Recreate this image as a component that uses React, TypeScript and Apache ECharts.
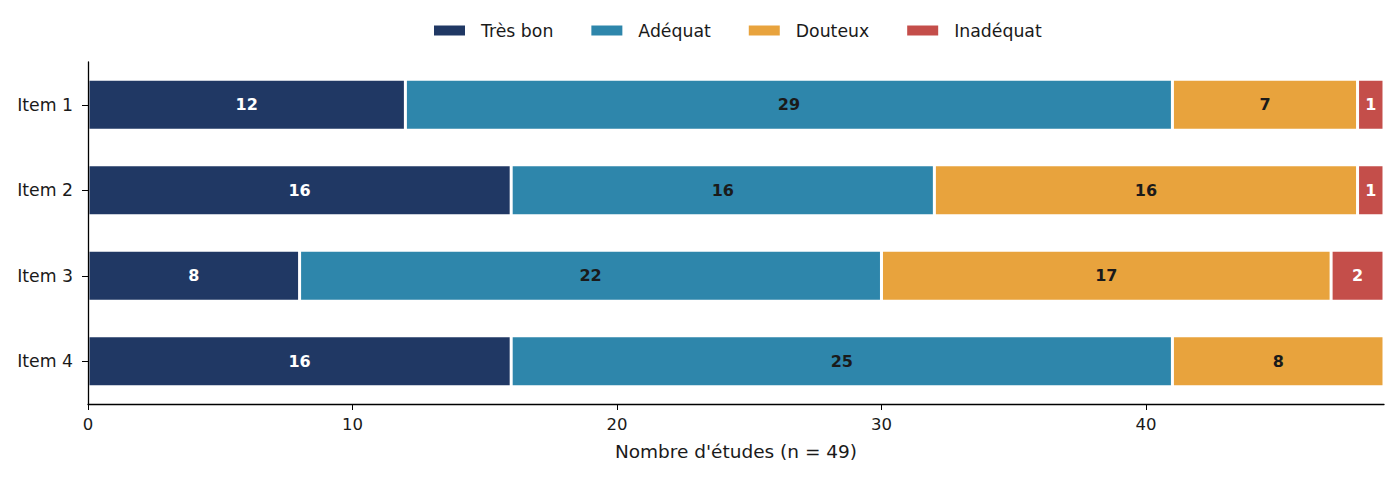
import React, { useEffect, useRef } from "react";
import * as echarts from "echarts";

const items = ["Item 1", "Item 2", "Item 3", "Item 4"];
const tresBon = [12, 16, 8, 16];
const adequat = [29, 16, 22, 25];
const douteux = [7, 16, 17, 8];
const inadequat = [1, 1, 2, 0];
const xTicks = [0, 10, 20, 30, 40];

const FONT = "DejaVu Sans";

function StackedBars() {
  const chartRef = useRef<HTMLDivElement>(null);

  useEffect(() => {
    document.body.style.margin = "0";
    const myChart = echarts.init(chartRef.current!, undefined, { renderer: "svg" });

    const makeSeries = (name: string, data: number[], color: string, labelColor: string) => ({
      name,
      type: "bar",
      stack: "total",
      barWidth: 51,
      data,
      itemStyle: { color, borderColor: "#ffffff", borderWidth: 1.5 },
      label: {
        show: true,
        position: "inside",
        color: labelColor,
        fontFamily: FONT,
        fontWeight: "bold",
        fontSize: 16,
        formatter: (p: any) => (p.value > 0 ? String(p.value) : ""),
      },
    });

    const option: echarts.EChartsOption = {
      animation: false,
      textStyle: { fontFamily: FONT },
      legend: {
        top: 22,
        left: 432,
        padding: 0,
        icon: "rect",
        itemWidth: 33,
        itemHeight: 12,
        itemGap: 36,
        textStyle: { fontFamily: FONT, fontSize: 17.3, color: "#1a1a1a", padding: [0, 0, 0, 10] },
        data: ["Très bon", "Adéquat", "Douteux", "Inadéquat"],
      },
      grid: { left: 88, right: 16, top: 62, bottom: 75, containLabel: false },
      xAxis: {
        type: "value",
        min: 0,
        max: 49,
        interval: 10,
        name: "Nombre d'études (n = 49)",
        nameLocation: "middle",
        nameGap: 38,
        nameTextStyle: { fontFamily: FONT, fontSize: 18.5, color: "#1a1a1a" },
        axisLine: { show: true, lineStyle: { color: "#000", width: 1.3 } },
        axisTick: { show: true, length: 6, lineStyle: { color: "#000" }, customValues: xTicks },
        axisLabel: { fontFamily: FONT, fontSize: 16.5, color: "#1a1a1a", margin: 12, customValues: xTicks },
        splitLine: { show: false },
      },
      yAxis: {
        type: "category",
        data: items,
        inverse: true,
        z: 5,
        axisLine: { show: true, lineStyle: { color: "#000", width: 1.3 } },
        axisTick: { show: true, alignWithLabel: true, length: 6, lineStyle: { color: "#000" } },
        axisLabel: { fontFamily: FONT, fontSize: 17.3, color: "#1a1a1a", margin: 15 },
      },
      series: [
        makeSeries("Très bon", tresBon, "#203864", "#ffffff"),
        makeSeries("Adéquat", adequat, "#2e86ab", "#1a1a1a"),
        makeSeries("Douteux", douteux, "#e8a33d", "#1a1a1a"),
        makeSeries("Inadéquat", inadequat, "#c44e4a", "#ffffff"),
      ] as any,
    };

    myChart.setOption(option);

    return () => {
      myChart.dispose();
    };
  }, []);

  return <div ref={chartRef} style={{ width: 1400, height: 479 }} />;
}

export default function App() {
  return <StackedBars />;
}
